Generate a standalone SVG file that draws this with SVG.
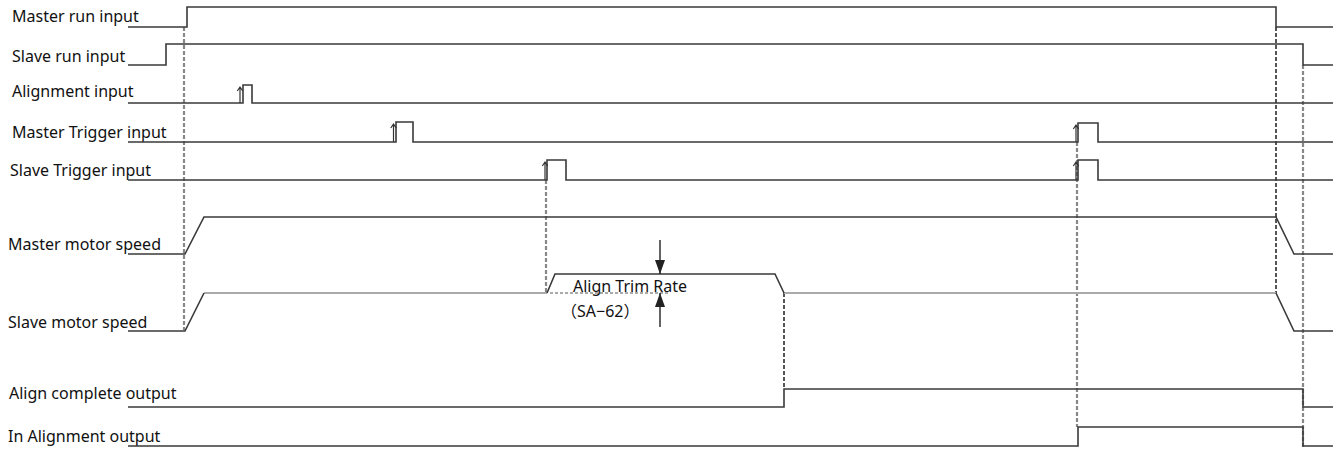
<svg xmlns="http://www.w3.org/2000/svg" width="1340" height="453" viewBox="0 0 1340 453">
<style>
text{font-family:"Noto Sans","Liberation Sans","Noto Sans CJK JP",sans-serif;font-size:16px;fill:#111}
.sig{fill:none;stroke:#3a3a3a;stroke-width:1.6}
.gray{fill:none;stroke:#aaa;stroke-width:2.2}
.dash{fill:none;stroke:#555;stroke-width:2;stroke-dasharray:4 2}
.dashl{fill:none;stroke:#888;stroke-width:2.2;stroke-dasharray:4 2}
.dot{fill:none;stroke:#aaa;stroke-width:2;stroke-dasharray:3 2}
.edge{fill:none;stroke:#333;stroke-width:1.2}
.meas{fill:none;stroke:#222;stroke-width:1.4}
</style>
<defs>
<marker id="ah" viewBox="0 0 10 10" refX="10" refY="5" markerWidth="14" markerHeight="10" markerUnits="userSpaceOnUse" orient="auto" preserveAspectRatio="none">
<path d="M0,0 L10,5 L0,10 z" fill="#222"/>
</marker>
</defs>
<g id="connectors">
<line class="dashl" x1="184" y1="27" x2="184" y2="330"/>
<line class="dashl" x1="546" y1="180" x2="546" y2="293"/>
<line class="dash" x1="784" y1="293" x2="784" y2="389"/>
<line class="dashl" x1="1077" y1="142" x2="1077" y2="427"/>
<line class="dash" x1="1276" y1="27" x2="1276" y2="293"/>
<line class="dashl" x1="1303" y1="65" x2="1303" y2="447"/>
</g>
<g id="master-run">
<text x="12" y="22">Master run input</text>
<path class="sig" d="M128,27 H187 V7 H1276 V27 H1333"/>
</g>
<g id="slave-run">
<text x="12" y="62">Slave run input</text>
<path class="sig" d="M128,65 H166 V44 H1303 V65 H1333"/>
</g>
<g id="alignment-input">
<text x="12" y="97">Alignment input</text>
<path class="sig" d="M128,103 H243 V85 H252 V103 H1333"/>
<path class="edge" d="M240,103 V87 M237.3,91 L240,87 L242.7,91"/>
</g>
<g id="master-trigger">
<text x="12" y="138">Master Trigger input</text>
<path class="sig" d="M128,142 H396 V122 H413 V142 H1078 V123 H1098 V142 H1333"/>
<path class="edge" d="M393.5,142 V124 M390.8,128 L393.5,124 L396.2,128"/>
<path class="edge" d="M1076,142 V125 M1073.3,129 L1076,125 L1078.7,129"/>
</g>
<g id="slave-trigger">
<text x="10" y="176">Slave Trigger input</text>
<path class="sig" d="M128,180 H547 V160 H566 V180 H1078 V160 H1098 V180 H1333"/>
<path class="edge" d="M545,180 V162 M542.3,166 L545,162 L547.7,166"/>
<path class="edge" d="M1076,180 V162 M1073.3,166 L1076,162 L1078.7,166"/>
</g>
<g id="master-motor-speed">
<text x="8" y="250">Master motor speed</text>
<path class="sig" d="M128,254 H185 L204,217 H1276 L1294,254 H1333"/>
</g>
<g id="slave-motor-speed">
<text x="8" y="328">Slave motor speed</text>
<path class="gray" d="M204,293 H547"/>
<path class="gray" d="M784,293 H1276"/>
<path class="sig" d="M128,331 H185 L204,293"/>
<path class="sig" d="M547,293 L555,274 H775 L784,293"/>
<path class="sig" d="M1276,293 L1294,331 H1333"/>
<path class="dot" d="M550,293 H670"/>
</g>
<g id="align-trim-rate">
<line class="meas" x1="660" y1="240" x2="660" y2="274" marker-end="url(#ah)"/>
<line class="meas" x1="660" y1="327" x2="660" y2="293" marker-end="url(#ah)"/>
<text x="573" y="292">Align Trim Rate</text>
<text x="561" y="317">（SA−62）</text>
</g>
<g id="align-complete">
<text x="9" y="399">Align complete output</text>
<path class="sig" d="M128,407 H784 V389 H1303 V407 H1333"/>
</g>
<g id="in-alignment">
<text x="8" y="442">In Alignment output</text>
<path class="sig" d="M128,446 H1078 V427 H1303 V446 H1333"/>
</g>
</svg>
